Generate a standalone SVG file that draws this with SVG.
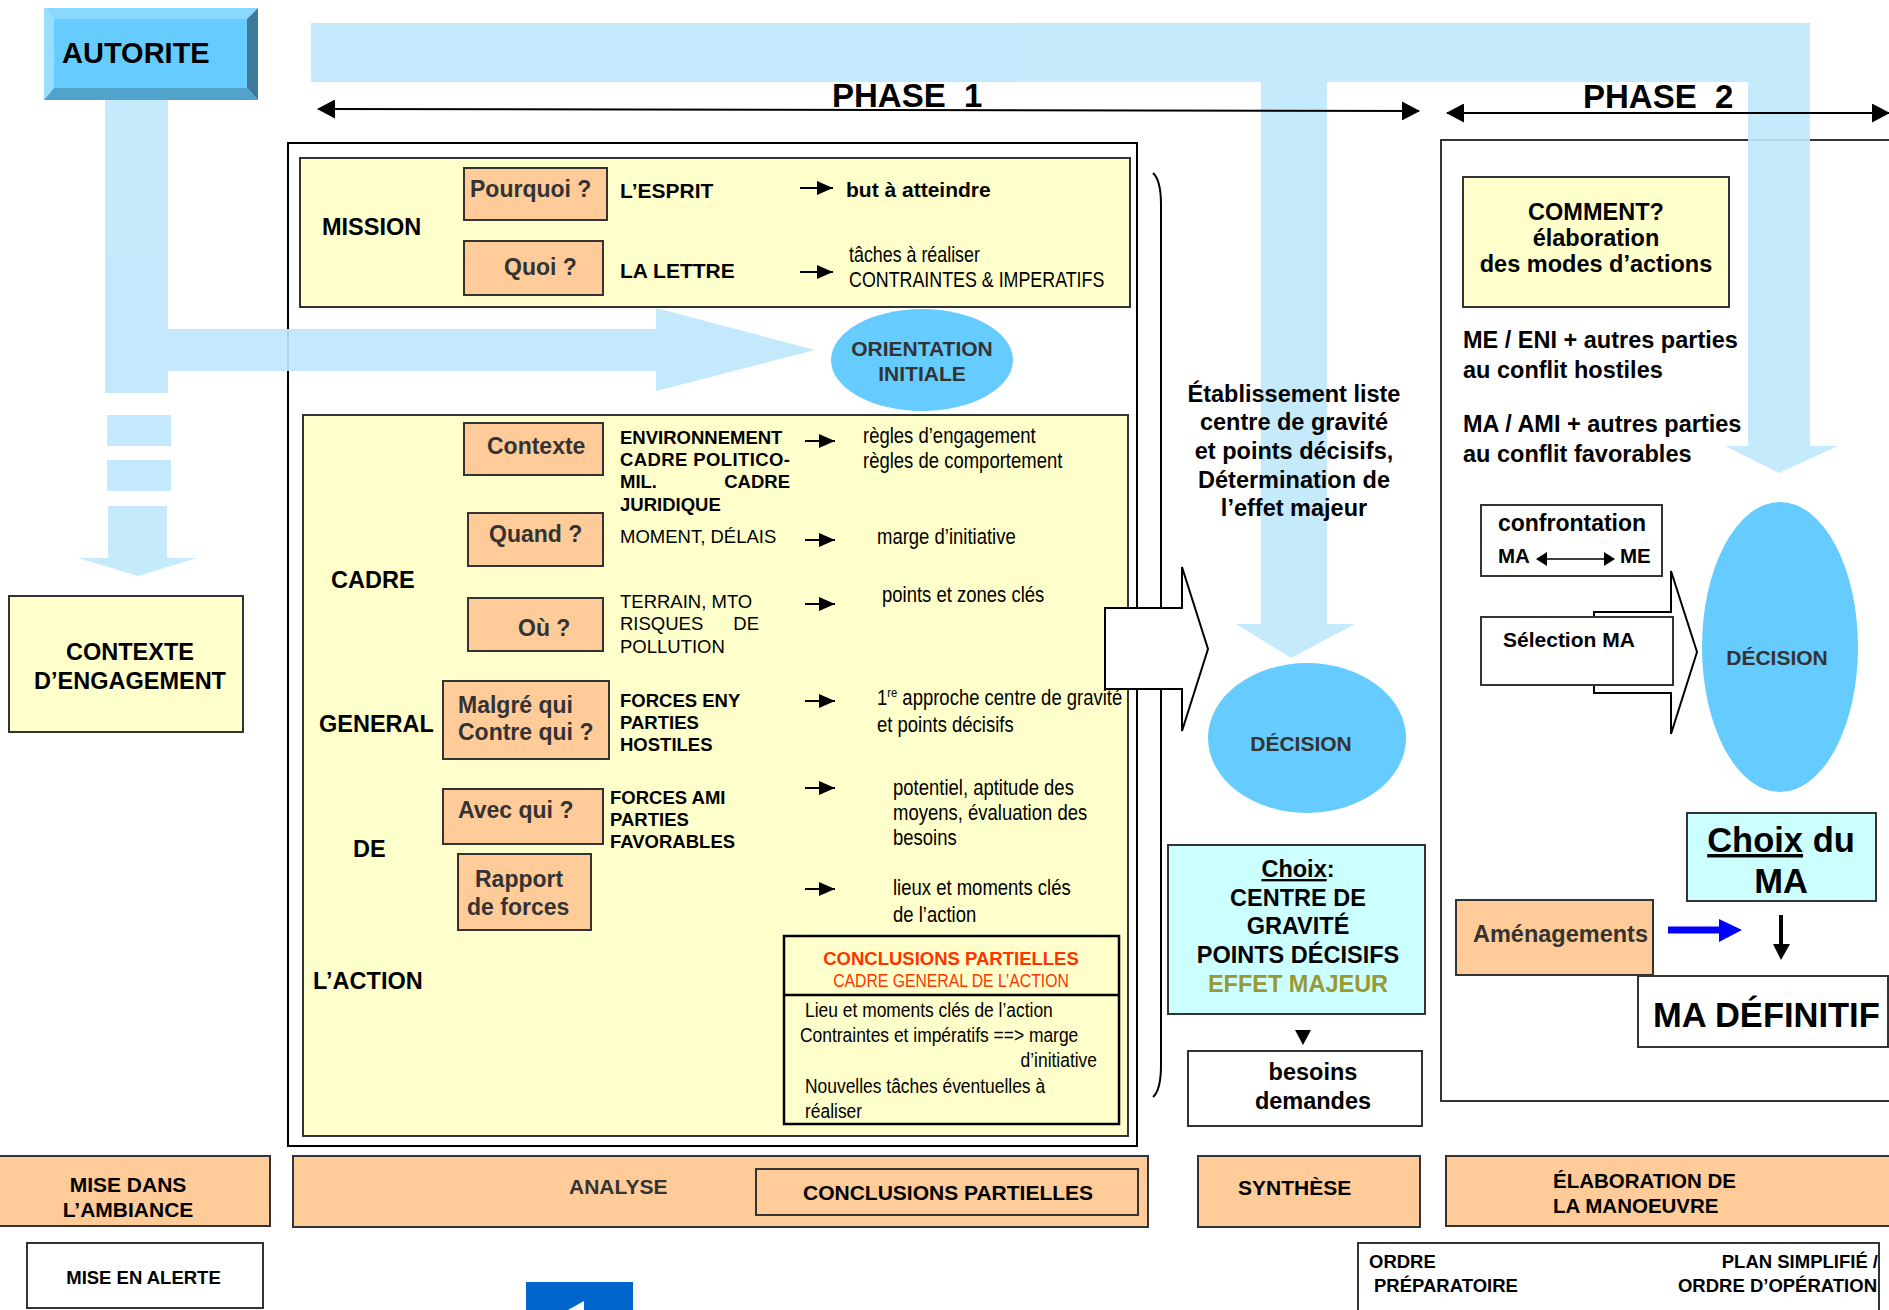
<svg xmlns="http://www.w3.org/2000/svg" width="1889" height="1310" viewBox="0 0 1889 1310">
<style>
text{font-family:'Liberation Sans',Arial,sans-serif;fill:#000}
.b{font-weight:bold}
.g{fill:#333}
.nar{font-size:21.5px}
.m{text-anchor:middle}
.r{text-anchor:end}
.y{fill:#FFFFCC;stroke:#333;stroke-width:2}
.o{fill:#FFCC99;stroke:#333;stroke-width:2}
.w{fill:#fff;stroke:#333;stroke-width:2}
.c{fill:#CCFFFF;stroke:#333;stroke-width:2}
.bl{fill:#C0E8FC}
.e{fill:#66CCFF}
.ln{stroke:#000;stroke-width:2;fill:none}
.sa{stroke:#000;stroke-width:2;fill:none;marker-end:url(#ah)}
</style>
<defs>
<marker id="ah" markerUnits="userSpaceOnUse" viewBox="0 0 16 14" refX="16" refY="7" markerWidth="16" markerHeight="14" orient="auto"><path d="M0,0 L16,7 L0,14 z" fill="#000"/></marker>
<marker id="ph" markerUnits="userSpaceOnUse" viewBox="0 0 18 19" refX="17" refY="9.5" markerWidth="18" markerHeight="19" orient="auto-start-reverse"><path d="M0,0 L18,9.5 L0,19 z" fill="#000"/></marker>
<marker id="sm" markerUnits="userSpaceOnUse" viewBox="0 0 11 14" refX="10" refY="7" markerWidth="11" markerHeight="14" orient="auto-start-reverse"><path d="M0,0 L11,7 L0,14 z" fill="#000"/></marker>
</defs>

<!-- Frames -->
<g id="phase1-frame">
<rect x="288" y="143" width="849" height="1003" fill="#fff" stroke="#000" stroke-width="2"/>
</g>
<g id="phase2-frame">
<rect x="1441" y="140" width="500" height="961" fill="#fff" stroke="#333" stroke-width="2"/>
</g>
<g id="mission-box"><rect class="y" x="300" y="158" width="830" height="149"/></g>
<g id="cadre-box"><rect class="y" x="303" y="415" width="825" height="721"/></g>

<!-- big light blue flows -->
<g id="flows" class="bl" opacity="0.92">
<path d="M311,23 H1810 V446 H1838 L1779,473 L1725,446 H1748 V82 H1327 V624 H1355 L1291,658 L1236,624 H1261 V82 H311 Z"/>
<path d="M105,100 H168 V329 H656 V308 L815,350 L656,391 V371 H168 V393 H105 Z"/>
<rect x="107" y="415" width="64" height="31"/>
<rect x="107" y="460" width="64" height="31"/>
<path d="M108,506 H167 V558 H197 L138,576 L78,558 H108 Z"/>
</g>

<!-- Autorite -->
<g id="autorite">
<polygon points="44,8 258,8 247,19 54,19" fill="#88D8FF"/>
<polygon points="44,8 54,19 54,88 44,100" fill="#99DDFF"/>
<polygon points="44,100 54,88 247,88 258,100" fill="#52A3CC"/>
<polygon points="258,8 258,100 247,88 247,19" fill="#3D7A99"/>
<rect x="54" y="19" width="193" height="69" fill="#66CCFF"/>
<text class="b" x="62" y="63" font-size="29">AUTORITE</text>
</g>

<g id="connectors">
<line x1="318" y1="109" x2="1419" y2="111" class="ln" marker-start="url(#ph)" marker-end="url(#ph)"/>
<line x1="1447" y1="113" x2="1889" y2="113" class="ln" marker-start="url(#ph)" marker-end="url(#ph)"/>
<line x1="800" y1="188" x2="833" y2="188" class="sa"/>
<line x1="800" y1="272" x2="833" y2="272" class="sa"/>
<line x1="805" y1="441" x2="835" y2="441" class="sa"/>
<line x1="805" y1="540" x2="835" y2="540" class="sa"/>
<line x1="805" y1="604" x2="835" y2="604" class="sa"/>
<line x1="805" y1="701" x2="835" y2="701" class="sa"/>
<line x1="805" y1="788" x2="835" y2="788" class="sa"/>
<line x1="805" y1="889" x2="835" y2="889" class="sa"/>
<path d="M1153,173 Q1161,180 1161,205 L1161,1065 Q1161,1090 1153,1097" class="ln"/>
<polygon points="1105,608 1182,608 1182,567 1208,649 1182,731 1182,689 1105,689" fill="#fff" stroke="#000" stroke-width="2"/>
<polygon points="1594,612 1671,612 1671,571 1697,652 1671,734 1671,693 1594,693" fill="#fff" stroke="#000" stroke-width="2"/>
<polygon points="1295,1030 1311,1030 1303,1045" fill="#000"/>
<polygon points="1668,926.5 1719,926.5 1719,919 1742,930 1719,942 1719,933.5 1668,933.5" fill="#0000FF"/>
<line x1="1781" y1="915" x2="1781" y2="947" stroke="#000" stroke-width="4"/>
<polygon points="1773,944 1790,944 1781,960" fill="#000"/>
</g>

<!-- Mission -->
<g id="mission">
<text class="b" x="322" y="235" font-size="23.5">MISSION</text>
<rect class="o" x="464" y="168" width="143" height="52"/>
<text class="b g" x="470" y="197" font-size="23">Pourquoi ?</text>
<rect class="o" x="464" y="241" width="139" height="54"/>
<text class="b g" x="504" y="275" font-size="23">Quoi ?</text>
<text class="b" x="620" y="198" font-size="21">L’ESPRIT</text>
<text class="b" x="620" y="278" font-size="21">LA LETTRE</text>
<text class="b" x="846" y="197" font-size="21">but à atteindre</text>
<text class="nar" transform="matrix(0.83,0,0,1,849,0)" x="0" y="262">tâches à réaliser</text>
<text class="nar" transform="matrix(0.83,0,0,1,849,0)" x="0" y="287">CONTRAINTES &amp; IMPERATIFS</text>
</g>

<g id="orientation">
<ellipse class="e" cx="922" cy="360" rx="91" ry="51"/>
<text class="b g m" x="922" y="356" font-size="21">ORIENTATION</text>
<text class="b g m" x="922" y="381" font-size="21">INITIALE</text>
</g>

<!-- Cadre general -->
<g id="cadre">
<text class="b" x="331" y="588" font-size="23.5">CADRE</text>
<text class="b" x="319" y="732" font-size="23.5">GENERAL</text>
<text class="b" x="353" y="857" font-size="23.5">DE</text>
<text class="b" x="313" y="989" font-size="23.5">L’ACTION</text>

<rect class="o" x="464" y="423" width="139" height="52"/>
<text class="b g" x="487" y="454" font-size="23">Contexte</text>
<rect class="o" x="468" y="513" width="135" height="53"/>
<text class="b g" x="489" y="542" font-size="23">Quand ?</text>
<rect class="o" x="468" y="598" width="135" height="53"/>
<text class="b g" x="518" y="636" font-size="23">Où ?</text>
<rect class="o" x="443" y="681" width="166" height="78"/>
<text class="b g" x="458" y="713" font-size="23">Malgré qui</text>
<text class="b g" x="458" y="740" font-size="23">Contre qui ?</text>
<rect class="o" x="443" y="789" width="160" height="55"/>
<text class="b g" x="458" y="818" font-size="23">Avec qui ?</text>
<rect class="o" x="458" y="854" width="133" height="76"/>
<text class="b g" x="475" y="887" font-size="23">Rapport</text>
<text class="b g" x="467" y="915" font-size="23">de forces</text>

<text class="b" x="620" y="444" font-size="18.5">ENVIRONNEMENT</text>
<text class="b" x="620" y="466" font-size="18.5" textLength="170" lengthAdjust="spacing">CADRE  POLITICO-</text>
<text class="b" x="620" y="488" font-size="18.5">MIL.</text>
<text class="b r" x="790" y="488" font-size="18.5">CADRE</text>
<text class="b" x="620" y="511" font-size="18.5">JURIDIQUE</text>
<text x="620" y="543" font-size="18.5">MOMENT, DÉLAIS</text>
<text x="620" y="608" font-size="18.5">TERRAIN, MTO</text>
<text x="620" y="630" font-size="18.5">RISQUES</text>
<text class="r" x="759" y="630" font-size="18.5">DE</text>
<text x="620" y="653" font-size="18.5">POLLUTION</text>
<text class="b" x="620" y="707" font-size="18.5">FORCES ENY</text>
<text class="b" x="620" y="729" font-size="18.5">PARTIES</text>
<text class="b" x="620" y="751" font-size="18.5">HOSTILES</text>
<text class="b" x="610" y="804" font-size="18.5">FORCES AMI</text>
<text class="b" x="610" y="826" font-size="18.5">PARTIES</text>
<text class="b" x="610" y="848" font-size="18.5">FAVORABLES</text>

<text class="nar" transform="matrix(0.86,0,0,1,863,0)" x="0" y="443">règles d’engagement</text>
<text class="nar" transform="matrix(0.86,0,0,1,863,0)" x="0" y="468">règles de comportement</text>
<text class="nar" transform="matrix(0.86,0,0,1,877,0)" x="0" y="544">marge d’initiative</text>
<text class="nar" transform="matrix(0.86,0,0,1,882,0)" x="0" y="602">points et zones clés</text>
<text class="nar" transform="matrix(0.86,0,0,1,877,0)" x="0" y="705">1<tspan font-size="13" dy="-8">re</tspan><tspan dy="8"> approche centre de gravité</tspan></text>
<text class="nar" transform="matrix(0.86,0,0,1,877,0)" x="0" y="732">et points décisifs</text>
<text class="nar" transform="matrix(0.86,0,0,1,893,0)" x="0" y="795">potentiel, aptitude des</text>
<text class="nar" transform="matrix(0.86,0,0,1,893,0)" x="0" y="820">moyens, évaluation des</text>
<text class="nar" transform="matrix(0.86,0,0,1,893,0)" x="0" y="845">besoins</text>
<text class="nar" transform="matrix(0.86,0,0,1,893,0)" x="0" y="895">lieux et moments clés</text>
<text class="nar" transform="matrix(0.86,0,0,1,893,0)" x="0" y="922">de l’action</text>
</g>

<g id="conclusions-partielles">
<rect x="784" y="936" width="335" height="188" fill="#FFFFCC" stroke="#000" stroke-width="2.5"/>
<line x1="784" y1="995" x2="1119" y2="995" stroke="#000" stroke-width="2.5"/>
<text class="b m" x="951" y="965" font-size="18.5" style="fill:#FF3300">CONCLUSIONS PARTIELLES</text>
<text class="m" transform="matrix(0.83,0,0,1,951,0)" x="0" y="987" font-size="19" style="fill:#FF3300">CADRE GENERAL DE L’ACTION</text>
<text transform="matrix(0.83,0,0,1,805,0)" x="0" y="1017" font-size="21">Lieu et moments clés de l’action</text>
<text transform="matrix(0.83,0,0,1,800,0)" x="0" y="1042" font-size="21">Contraintes et impératifs ==&gt; marge</text>
<text class="r" transform="matrix(0.83,0,0,1,1097,0)" x="0" y="1067" font-size="21">d’initiative</text>
<text transform="matrix(0.83,0,0,1,805,0)" x="0" y="1093" font-size="21">Nouvelles tâches éventuelles à</text>
<text transform="matrix(0.83,0,0,1,805,0)" x="0" y="1118" font-size="21">réaliser</text>
</g>

<g id="etablissement">
<text class="b m" x="1294" y="402" font-size="23.5">Établissement liste</text>
<text class="b m" x="1294" y="430" font-size="23.5">centre de gravité</text>
<text class="b m" x="1294" y="459" font-size="23.5">et points décisifs,</text>
<text class="b m" x="1294" y="488" font-size="23.5">Détermination de</text>
<text class="b m" x="1294" y="516" font-size="23.5">l’effet majeur</text>
</g>

<g id="decision1">
<ellipse class="e" cx="1307" cy="738" rx="99" ry="75"/>
<text class="b g m" x="1301" y="751" font-size="21">DÉCISION</text>
</g>

<g id="choix">
<rect class="c" x="1168" y="845" width="257" height="169"/>
<text class="b m" x="1298" y="877" font-size="23.5"><tspan text-decoration="underline">Choix</tspan>:</text>
<text class="b m" x="1298" y="906" font-size="23.5">CENTRE DE</text>
<text class="b m" x="1298" y="934" font-size="23.5">GRAVITÉ</text>
<text class="b m" x="1298" y="963" font-size="23.5">POINTS DÉCISIFS</text>
<text class="b m" x="1298" y="992" font-size="23.5" style="fill:#999933">EFFET MAJEUR</text>
</g>

<g id="besoins">
<rect class="w" x="1188" y="1051" width="234" height="75"/>
<text class="b m" x="1313" y="1080" font-size="23.5">besoins</text>
<text class="b m" x="1313" y="1109" font-size="23.5">demandes</text>
</g>

<g id="phase-titles">
<text class="b" x="832" y="107" font-size="33" xml:space="preserve">PHASE  1</text>
<text class="b" x="1583" y="108" font-size="33" xml:space="preserve">PHASE  2</text>
</g>

<g id="comment">
<rect class="y" x="1463" y="177" width="266" height="130"/>
<text class="b m" x="1596" y="220" font-size="23.5">COMMENT?</text>
<text class="b m" x="1596" y="246" font-size="23.5">élaboration</text>
<text class="b m" x="1596" y="272" font-size="23.5">des modes d’actions</text>
</g>

<g id="parties">
<text class="b" x="1463" y="348" font-size="23.5">ME / ENI + autres parties</text>
<text class="b" x="1463" y="378" font-size="23.5">au conflit hostiles</text>
<text class="b" x="1463" y="432" font-size="23.5">MA / AMI + autres parties</text>
<text class="b" x="1463" y="462" font-size="23.5">au conflit favorables</text>
</g>

<g id="confrontation">
<rect class="w" x="1481" y="505" width="181" height="71"/>
<text class="b m" x="1572" y="531" font-size="23">confrontation</text>
<text class="b" x="1498" y="563" font-size="20.5">MA</text>
<text class="b" x="1620" y="563" font-size="20.5">ME</text>
<line x1="1537" y1="559" x2="1614" y2="559" stroke="#000" stroke-width="1.5" marker-start="url(#sm)" marker-end="url(#sm)"/>
</g>

<g id="selection">
<rect class="w" x="1481" y="617" width="192" height="68"/>
<text class="b" x="1503" y="647" font-size="21">Sélection MA</text>
</g>

<g id="decision2">
<ellipse class="e" cx="1780" cy="647" rx="78" ry="145"/>
<text class="b g m" x="1777" y="665" font-size="21">DÉCISION</text>
</g>

<g id="choix-ma">
<rect class="c" x="1687" y="813" width="189" height="88"/>
<text class="b m" x="1781" y="852" font-size="34.5"><tspan text-decoration="underline">Choix</tspan> du</text>
<text class="b m" x="1781" y="893" font-size="34.5">MA</text>
</g>

<g id="amenagements">
<rect class="o" x="1456" y="900" width="197" height="75"/>
<text class="b g" x="1473" y="942" font-size="23.5">Aménagements</text>
</g>

<g id="ma-definitif">
<rect class="w" x="1638" y="976" width="250" height="71"/>
<text class="b" x="1653" y="1027" font-size="34.5">MA DÉFINITIF</text>
</g>

<g id="contexte-engagement">
<rect class="y" x="9" y="596" width="234" height="136"/>
<text class="b m" x="130" y="660" font-size="23.5">CONTEXTE</text>
<text class="b m" x="130" y="689" font-size="23.5">D’ENGAGEMENT</text>
</g>

<!-- Bottom row -->
<g id="mise-ambiance">
<rect class="o" x="-2" y="1156" width="272" height="70"/>
<text class="b m" x="128" y="1192" font-size="21">MISE DANS</text>
<text class="b m" x="128" y="1217" font-size="21">L’AMBIANCE</text>
</g>
<g id="analyse">
<rect class="o" x="293" y="1156" width="855" height="71"/>
<text class="b g" x="569" y="1194" font-size="21">ANALYSE</text>
<rect class="o" x="756" y="1169" width="382" height="46"/>
<text class="b" x="803" y="1200" font-size="21">CONCLUSIONS PARTIELLES</text>
</g>
<g id="synthese">
<rect class="o" x="1198" y="1156" width="222" height="71"/>
<text class="b" x="1238" y="1195" font-size="21">SYNTHÈSE</text>
</g>
<g id="elaboration">
<rect class="o" x="1446" y="1156" width="460" height="70"/>
<text class="b" x="1553" y="1188" font-size="20.5">ÉLABORATION DE</text>
<text class="b" x="1553" y="1213" font-size="20.5">LA MANOEUVRE</text>
</g>
<g id="mise-alerte">
<rect class="w" x="27" y="1243" width="236" height="65"/>
<text class="b m" x="143.5" y="1284" font-size="18.5">MISE EN ALERTE</text>
</g>
<g id="ordres">
<rect class="w" x="1358" y="1243" width="521" height="80"/>
<text class="b" x="1369" y="1268" font-size="18.5">ORDRE</text>
<text class="b" x="1374" y="1292" font-size="18.5">PRÉPARATOIRE</text>
<text class="b r" x="1878" y="1268" font-size="18.5">PLAN SIMPLIFIÉ /</text>
<text class="b r" x="1877" y="1292" font-size="18.5">ORDRE D’OPÉRATION</text>
</g>
<g id="nav-button">
<rect x="526" y="1282" width="107" height="30" fill="#0066CC"/>
<polygon points="568,1310 584,1301 584,1310" fill="#fff"/>
</g>
</svg>
